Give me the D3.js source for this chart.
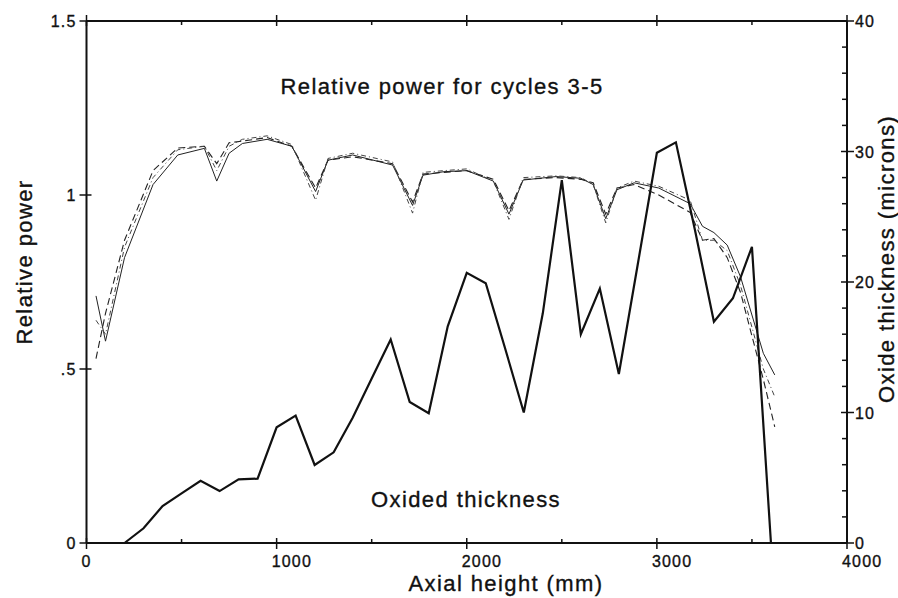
<!DOCTYPE html>
<html>
<head>
<meta charset="utf-8">
<script src="https://cdn.jsdelivr.net/npm/d3@7"></script>
<style>
  html, body { margin: 0; padding: 0; background: #fff; }
  svg { display: block; }
  text { font-family: "Liberation Sans", Arial, Helvetica, sans-serif; fill: #111; stroke: #111; stroke-width: 0.35; }
</style>
</head>
<body>
<svg id="chart" width="898" height="598"></svg>
<script>
// ---------- data ----------
const xTicks = [0, 1000, 2000, 3000, 4000];
const xTickLabels = ["0", "1000", "2000", "3000", "4000"];
const leftTicks = [0, 0.5, 1, 1.5];
const leftTickLabels = ["0", ".5", "1", "1.5"];
const rightTicks = [0, 10, 20, 30, 40];
const rightTickLabels = ["0", "10", "20", "30", "40"];

// Oxide thickness (microns, right axis)
const oxideHeight = [200, 300, 400, 500, 600, 700, 800, 900, 1000, 1100, 1200, 1300, 1400, 1500, 1600, 1700, 1800, 1900, 2000, 2100, 2200, 2300, 2400, 2500, 2600, 2700, 2800, 2900, 3000, 3100, 3200, 3300, 3400, 3500, 3600];
const oxideValue  = [0, 1.13, 2.83, 3.8, 4.77, 3.98, 4.88, 4.93, 8.87, 9.76, 5.98, 6.95, 9.6, 12.6, 15.6, 10.8, 9.94, 16.6, 20.7, 19.9, 15.0, 10.0, 17.6, 27.8, 16.0, 19.5, 12.95, 21.4, 29.9, 30.7, 24.0, 16.96, 18.75, 22.7, 0];

// Relative power for cycles 3-5 (left axis)
const powerHeight = [50, 100, 200, 350, 480, 620, 685, 750, 820, 950, 1080, 1205, 1270, 1400, 1610, 1715, 1770, 1880, 2000, 2140, 2222, 2297, 2470, 2600, 2665, 2731, 2790, 2880, 3010, 3175, 3240, 3300, 3370, 3440, 3560, 3620];
const powerCycle3 = [0.71, 0.58, 0.82, 1.03, 1.115, 1.134, 1.04, 1.12, 1.148, 1.16, 1.14, 1.01, 1.10, 1.115, 1.086, 0.97, 1.057, 1.067, 1.07, 1.04, 0.945, 1.043, 1.053, 1.048, 1.03, 0.932, 1.015, 1.035, 1.02, 0.975, 0.91, 0.892, 0.856, 0.765, 0.545, 0.483];
const powerCycle4 = [0.53, 0.66, 0.87, 1.07, 1.135, 1.14, 1.09, 1.15, 1.155, 1.165, 1.14, 1.02, 1.10, 1.11, 1.09, 0.98, 1.06, 1.065, 1.07, 1.045, 0.955, 1.045, 1.05, 1.045, 1.035, 0.945, 1.02, 1.03, 1.0, 0.95, 0.87, 0.875, 0.82, 0.72, 0.47, 0.334];
const powerCycle5 = [0.64, 0.60, 0.85, 1.05, 1.13, 1.14, 1.07, 1.14, 1.16, 1.17, 1.145, 0.985, 1.105, 1.12, 1.095, 0.948, 1.065, 1.07, 1.075, 1.04, 0.93, 1.05, 1.055, 1.05, 1.03, 0.92, 1.02, 1.04, 1.025, 0.985, 0.87, 0.87, 0.84, 0.74, 0.50, 0.42];

// ---------- scales ----------
const svg = d3.select("#chart");
const x = d3.scaleLinear().domain([0, 4000]).range([86.5, 847]);
const yL = d3.scaleLinear().domain([0, 1.5]).range([543, 21]);
const yR = d3.scaleLinear().domain([0, 40]).range([543, 21]);

const axisW = 2;
const ink = "#111";

// ---------- frame ----------
const frame = svg.append("g").attr("stroke", ink).attr("stroke-width", axisW).attr("fill", "none");
frame.append("line").attr("x1", x(0)).attr("x2", x(4000)).attr("y1", yL(0)).attr("y2", yL(0));
frame.append("line").attr("x1", x(0)).attr("x2", x(4000)).attr("y1", yL(1.5)).attr("y2", yL(1.5));
frame.append("line").attr("x1", x(0)).attr("x2", x(0)).attr("y1", yL(0)).attr("y2", yL(1.5));
frame.append("line").attr("x1", x(4000)).attr("x2", x(4000)).attr("y1", yL(0)).attr("y2", yL(1.5));

// ticks
const tickG = svg.append("g").attr("stroke", ink).attr("stroke-width", 1.5);
const xMinor = d3.range(500, 4000, 1000);
xTicks.forEach(v => {
  tickG.append("line").attr("x1", x(v)).attr("x2", x(v)).attr("y1", yL(0) - 5).attr("y2", yL(0) + 6);
  tickG.append("line").attr("x1", x(v)).attr("x2", x(v)).attr("y1", yL(1.5) - 6).attr("y2", yL(1.5) + 5);
});
xMinor.forEach(v => {
  tickG.append("line").attr("x1", x(v)).attr("x2", x(v)).attr("y1", yL(0) - 4).attr("y2", yL(0));
  tickG.append("line").attr("x1", x(v)).attr("x2", x(v)).attr("y1", yL(1.5)).attr("y2", yL(1.5) + 4);
});
leftTicks.forEach(v => {
  tickG.append("line").attr("x1", x(0) - 7).attr("x2", x(0) + 5).attr("y1", yL(v)).attr("y2", yL(v));
});
rightTicks.forEach(v => {
  tickG.append("line").attr("x1", x(4000) - 6).attr("x2", x(4000) + 7).attr("y1", yR(v)).attr("y2", yR(v));
});
d3.range(2, 40, 2).filter(v => v % 10 !== 0).forEach(v => {
  tickG.append("line").attr("x1", x(4000) - 5).attr("x2", x(4000)).attr("y1", yR(v)).attr("y2", yR(v));
});

// tick labels
const lab = svg.append("g").attr("font-size", 16).attr("letter-spacing", 1.2);
xTicks.forEach((v, i) => {
  lab.append("text").attr("x", x(v) - 5).attr("y", yL(0) + 24).attr("text-anchor", "start").text(xTickLabels[i]);
});
leftTicks.forEach((v, i) => {
  lab.append("text").attr("x", x(0) - 10).attr("y", yL(v) + 6).attr("text-anchor", "end").text(leftTickLabels[i]);
});
rightTicks.forEach((v, i) => {
  lab.append("text").attr("x", x(4000) + 8).attr("y", yR(v) + 6).attr("text-anchor", "start").text(rightTickLabels[i]);
});

// ---------- power lines ----------
const lineL = (vals) => d3.line().x((d, i) => x(powerHeight[i])).y(d => yL(d))(vals);
svg.append("path").attr("d", lineL(powerCycle3)).attr("fill", "none").attr("stroke", "#222").attr("stroke-width", 1);
svg.append("path").attr("d", lineL(powerCycle4)).attr("fill", "none").attr("stroke", "#222").attr("stroke-width", 1.1).attr("stroke-dasharray", "7,4");
svg.append("path").attr("d", lineL(powerCycle5)).attr("fill", "none").attr("stroke", "#444").attr("stroke-width", 1).attr("stroke-dasharray", "5,3,1,3");

// ---------- oxide line ----------
const lineR = d3.line().x((d, i) => x(oxideHeight[i])).y(d => yR(d));
svg.append("path").attr("d", lineR(oxideValue)).attr("fill", "none").attr("stroke", ink).attr("stroke-width", 2.2).attr("stroke-linejoin", "miter");

// ---------- titles ----------
const big = { size: 22, ls: 1.4 };
function title(t, tr) {
  return svg.append("text").attr("transform", tr).attr("text-anchor", "middle")
    .attr("font-size", big.size).attr("letter-spacing", big.ls).text(t);
}
title("Relative power for cycles 3-5", "translate(442,94)");
title("Oxided thickness", "translate(466,507)");
title("Axial height (mm)", "translate(506,591)");
title("Relative power", "translate(32,262) rotate(-90)");
title("Oxide thickness (microns)", "translate(894,259) rotate(-90)");
</script>
</body>
</html>
